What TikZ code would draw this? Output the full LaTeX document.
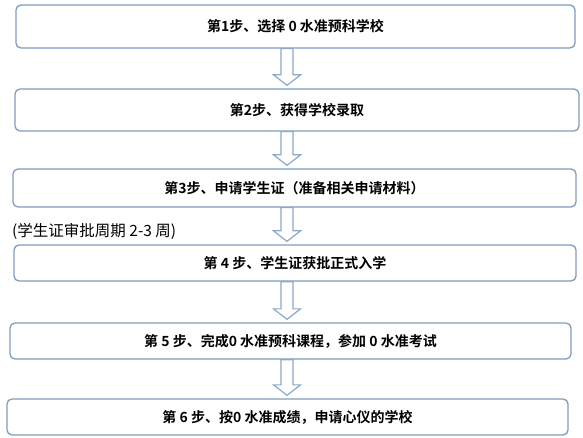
\documentclass[tikz,border=0pt]{standalone}
\usepackage{fontspec}
\newfontfamily\cjk{Noto Sans CJK SC}
\newfontfamily\cjkbold{Noto Sans CJK SC Bold}
\usetikzlibrary{calc}
\definecolor{boxc}{HTML}{7F9CBD}
\definecolor{arrc}{HTML}{8EA8C8}
\tikzset{
  stepbox/.style={draw=boxc, line width=1.3pt, rounded corners=5pt, fill=white,
    inner sep=0pt, font=\cjkbold\fontsize{14}{16}\selectfont},
  flowarr/.style={draw=arrc, line width=1.2pt, fill=white, line join=miter},
  note/.style={inner sep=0pt, anchor=west, font=\cjk\fontsize{15.5}{17}\selectfont}
}
\newcommand{\flowarrow}[2]{%
  \path[flowarr] let \p1=(ax |- #1.south), \p2=(ax |- #2.north) in
    ({\x1-6pt},\y1) -- ({\x1-6pt},{\y2+13.5pt}) -- ({\x1-13.5pt},{\y2+13.5pt})
    -- (\x1,{\y2+3pt}) -- ({\x1+13.5pt},{\y2+13.5pt}) -- ({\x1+6pt},{\y2+13.5pt})
    -- ({\x1+6pt},\y1) -- cycle;}
\begin{document}
\begin{tikzpicture}[x=1pt,y=1pt]
\useasboundingbox (0,0) rectangle (583,-438);
\coordinate (ax) at (287,0);
\node[stepbox, minimum width=559pt, minimum height=43pt] (b1) at (295.5,-26.5) {第1步、选择 0 水准预科学校};
\node[stepbox, minimum width=564pt, minimum height=42pt] (b2) at (297,-110) {第2步、获得学校录取};
\node[stepbox, minimum width=563pt, minimum height=38pt] (b3) at (294.5,-188) {第3步、申请学生证（准备相关申请材料）};
\node[stepbox, minimum width=562pt, minimum height=36pt] (b4) at (295,-263) {第 4 步、学生证获批正式入学};
\node[stepbox, minimum width=561pt, minimum height=36pt] (b5) at (290.5,-341) {第 5 步、完成0 水准预科课程，参加 0 水准考试};
\node[stepbox, minimum width=561pt, minimum height=36pt] (b6) at (287.5,-417) {第 6 步、按0 水准成绩，申请心仪的学校};
\flowarrow{b1}{b2}
\flowarrow{b2}{b3}
\flowarrow{b3}{b4}
\flowarrow{b4}{b5}
\flowarrow{b5}{b6}
\node[note] (n1) at (12,-231) {(学生证审批周期 2-3 周)};
\end{tikzpicture}
\end{document}
